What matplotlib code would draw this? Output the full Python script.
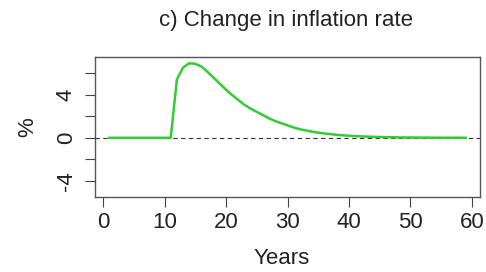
import matplotlib
matplotlib.use("Agg")
import matplotlib.pyplot as plt
import numpy as np

years = list(range(1, 60))
inflation_change = [0.0]*11 + [
    5.4, 6.5, 6.9, 6.85, 6.6, 6.1, 5.55, 5.0, 4.45, 3.95,
    3.5, 3.05, 2.7, 2.4, 2.1, 1.8, 1.55, 1.35, 1.15, 0.95,
    0.8, 0.68, 0.57, 0.48, 0.4, 0.34, 0.28, 0.23, 0.19, 0.16,
    0.13, 0.11, 0.09, 0.07, 0.06, 0.05, 0.04, 0.03, 0.03, 0.02,
    0.02, 0.02, 0.01, 0.01, 0.01, 0.01, 0.01, 0.0]
xticks = [0, 10, 20, 30, 40, 50, 60]
yticks = [-4, -2, 0, 2, 4, 6]
ytick_labels = ["-4", "", "0", "", "4", ""]

plt.rcParams['font.family'] = ['Liberation Sans', 'DejaVu Sans']
fig = plt.figure(figsize=(4.86, 2.72), dpi=100)
ax = fig.add_axes([0.1955, 0.2757, 0.7922, 0.5147])

ax.axhline(0, color='#333333', lw=0.8, ls=(0, (4, 3)), zorder=1)
ax.plot(years, inflation_change, color='#33cc33', lw=1.8, zorder=2)

ax.set_xlim(-1.32, 61.32)
ax.set_ylim(-5.48, 7.48)
ax.set_xticks(xticks)
ax.set_yticks(yticks)
ax.set_yticklabels(ytick_labels, rotation=90, va='center')
ax.tick_params(direction='out', length=7, width=0.8, color='#444444',
               labelsize=16, labelcolor='#222222')
ax.tick_params(axis='x', pad=4)
ax.tick_params(axis='y', pad=6)
for s in ax.spines.values():
    s.set_color('#555555')
    s.set_linewidth(1.0)

ax.set_xlabel("Years", fontsize=16, color='#222222', va='center')
ax.set_ylabel("%", fontsize=16, color='#222222', va='center')
ax.xaxis.set_label_coords(0.485, -0.436)
ax.yaxis.set_label_coords(-0.174, 0.5)
fig.text(0.588, 0.925, "c) Change in inflation rate", ha='center', va='center',
         fontsize=16, color='#222222')

fig.savefig("out.png", dpi=100)
